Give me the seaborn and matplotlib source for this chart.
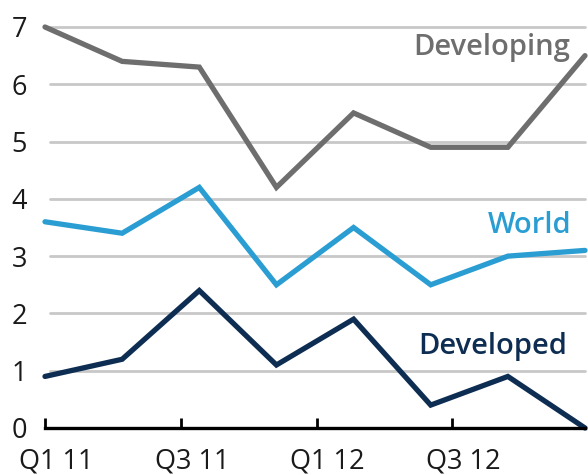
import matplotlib
matplotlib.use("Agg")
import matplotlib.pyplot as plt
import matplotlib.transforms as mtransforms
import seaborn as sns
import pandas as pd

quarters = ["Q1 11", "Q2 11", "Q3 11", "Q4 11", "Q1 12", "Q2 12", "Q3 12", "Q4 12"]
developing = [7.0, 6.4, 6.3, 4.2, 5.5, 4.9, 4.9, 6.5]
world = [3.6, 3.4, 4.2, 2.5, 3.5, 2.5, 3.0, 3.1]
developed = [0.9, 1.2, 2.4, 1.1, 1.9, 0.4, 0.9, 0.0]
tick_labels = ["Q1 11", "Q3 11", "Q1 12", "Q3 12"]
y_ticks = [0, 1, 2, 3, 4, 5, 6, 7]

sns.set_theme(style="white")
plt.rcParams["font.family"] = ["Open Sans", "DejaVu Sans"]

colors = {"Developing": "#6e6e6e", "World": "#2a9dd2", "Developed": "#0e2d52"}

df = pd.DataFrame({
    "idx": list(range(len(quarters))) * 3,
    "value": developing + world + developed,
    "series": ["Developing"] * 8 + ["World"] * 8 + ["Developed"] * 8,
})

fig = plt.figure(figsize=(5.88, 4.75), dpi=100)
ax = fig.add_axes([45 / 588, 47 / 475, 540 / 588, 401 / 475])

for y in y_ticks[1:]:
    ax.axhline(y, xmin=0.01, xmax=1.0, color="#c8c8c8", lw=2.0, zorder=1)

sns.lineplot(data=df, x="idx", y="value", hue="series", palette=colors,
             linewidth=3.8, legend=False, ax=ax, zorder=3)
for ln in ax.lines:
    ln.set_clip_on(False)
    ln.set_solid_joinstyle("miter")

ax.set_xlim(0, 7)
ax.set_ylim(0, 7)
ax.set_xlabel("")
ax.set_ylabel("")

ax.set_yticks(y_ticks)
ax.set_yticklabels([str(v) for v in y_ticks], fontsize=19.5, color="#1a1a1a")
step = 135.7 / 77.1
ax.set_xticks([i * step for i in range(len(tick_labels))])
ax.set_xticklabels(tick_labels, fontsize=19.5, color="#1a1a1a")
ax.tick_params(axis="y", left=False, length=0, pad=13)
ax.tick_params(axis="x", bottom=True, direction="in", length=7, width=2,
               color="black", pad=14)
shift = mtransforms.ScaledTranslation(11 / 100, 0, fig.dpi_scale_trans)
for lab in ax.get_xticklabels():
    lab.set_transform(lab.get_transform() + shift)

for s in ["top", "right", "left"]:
    ax.spines[s].set_visible(False)
ax.spines["bottom"].set_color("black")
ax.spines["bottom"].set_linewidth(2.4)
ax.spines["bottom"].set_zorder(4)

ax.text(6.81, 6.65, "Developing", color=colors["Developing"], fontsize=21,
        fontweight="semibold", ha="right", va="center")
ax.text(6.83, 3.53, "World", color=colors["World"], fontsize=21,
        fontweight="semibold", ha="right", va="center")
ax.text(6.77, 1.43, "Developed", color=colors["Developed"], fontsize=21,
        fontweight="semibold", ha="right", va="center")

fig.savefig("out.png", dpi=100)
